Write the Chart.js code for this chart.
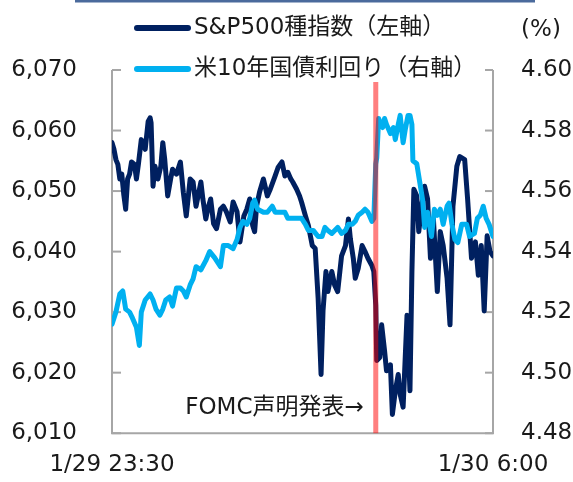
<!DOCTYPE html>
<html>
<head>
<meta charset="utf-8">
<script src="https://cdn.jsdelivr.net/npm/chart.js@4.4.1/dist/chart.umd.min.js"></script>
<style>
  html, body { margin: 0; padding: 0; background: #fff; }
  #wrap { width: 573px; height: 482px; }
</style>
</head>
<body>
<div id="wrap"><canvas id="chart" width="573" height="482"></canvas></div>
<script>
// minutes after 1/29 23:30 (JST)
const spxMinutes = [
  0, 2, 4, 6, 8, 10, 12, 14, 16, 18,
  20, 23, 25, 27, 30, 34, 37, 39, 40, 42,
  44, 47, 50, 52, 54, 57, 60, 62, 66, 70,
  73, 76, 80, 83, 86, 91, 93, 96, 98, 101,
  104, 107, 111, 114, 117, 121, 124, 128, 131, 135,
  138, 141, 144, 146, 148, 151, 155, 159, 162, 167,
  170, 174, 177, 180, 183, 185, 189, 192, 194, 198,
  201, 205, 208, 211, 214, 216, 219, 221, 225, 228,
  231, 235, 239, 242, 244, 247, 249, 252, 256, 259,
  262, 266, 268, 270, 271, 274, 276, 279, 281, 285,
  287, 290, 293, 295, 298, 302, 305, 307, 309, 312,
  314, 317, 320, 323, 326, 329, 333, 336, 339, 343,
  346, 349, 353, 356, 361, 364, 368, 372, 375, 378,
  381, 384, 387, 390
];
const spxValues = [
  6058.0, 6056.9, 6055.2, 6054.4, 6052.0, 6052.8, 6049.5, 6047.0, 6052.0, 6052.8,
  6054.8, 6054.4, 6052.0, 6054.4, 6058.5, 6056.9, 6061.5, 6062.1, 6061.3, 6050.8,
  6054.1, 6052.0, 6054.1, 6058.0, 6055.2, 6049.2, 6052.0, 6053.6, 6052.8, 6054.8,
  6049.8, 6045.9, 6052.0, 6051.5, 6047.5, 6051.5, 6048.7, 6045.4, 6047.0, 6048.7,
  6044.6, 6043.8, 6047.0, 6047.5, 6046.6, 6044.9, 6048.2, 6046.6, 6041.6, 6045.9,
  6047.0, 6048.7, 6044.3, 6043.3, 6047.5, 6049.8, 6052.0, 6049.2, 6050.3, 6052.5,
  6053.9, 6054.8, 6052.5, 6053.1, 6052.0, 6051.5, 6050.3, 6049.2, 6048.2, 6045.9,
  6044.3, 6041.0, 6040.5, 6032.3, 6019.7, 6030.2, 6036.7, 6033.4, 6036.7, 6034.4,
  6033.4, 6039.3, 6041.0, 6045.4, 6042.1, 6038.9, 6035.6, 6037.2, 6041.0, 6040.0,
  6038.9, 6037.7, 6036.7, 6031.1, 6022.0, 6022.5, 6027.9, 6023.6, 6020.3, 6021.3,
  6013.1, 6017.0, 6019.7, 6016.4, 6014.3, 6029.5, 6017.0, 6036.7, 6050.3, 6049.2,
  6043.3, 6047.5, 6050.8, 6048.7, 6038.9, 6045.4, 6033.4, 6043.3, 6041.0, 6035.6,
  6027.9, 6047.5, 6054.1, 6055.7, 6055.2, 6048.7, 6038.9, 6041.6, 6036.1, 6041.0,
  6030.2, 6042.6, 6040.0, 6039.3
];

const ustMinutes = [
  0, 4, 8, 11, 14, 18, 21, 25, 28, 30,
  34, 39, 42, 45, 49, 52, 55, 59, 62, 66,
  70, 73, 76, 80, 83, 86, 91, 96, 100, 105,
  111, 114, 119, 124, 128, 131, 134, 138, 141, 144,
  146, 149, 155, 159, 164, 167, 172, 177, 180, 184,
  189, 194, 198, 201, 206, 211, 215, 218, 221, 225,
  228, 231, 235, 239, 242, 246, 249, 252, 256, 259,
  262, 266, 268, 270, 271, 273, 275, 277, 279, 281,
  285, 288, 290, 293, 295, 298, 300, 303, 305, 307,
  308, 312, 315, 318, 320, 323, 327, 330, 333, 336,
  339, 343, 345, 348, 351, 354, 358, 363, 366, 371,
  374, 377, 380, 383, 386, 390
];
const ustValues = [
  4.516, 4.520, 4.526, 4.527, 4.521, 4.520, 4.518, 4.515, 4.509, 4.520,
  4.524, 4.526, 4.524, 4.521, 4.519, 4.521, 4.524, 4.525, 4.522, 4.528,
  4.528, 4.527, 4.525, 4.529, 4.531, 4.535, 4.534, 4.537, 4.540, 4.538,
  4.535, 4.542, 4.542, 4.541, 4.544, 4.548, 4.550, 4.549, 4.551, 4.556,
  4.557, 4.554, 4.553, 4.553, 4.555, 4.553, 4.553, 4.553, 4.551, 4.551,
  4.551, 4.551, 4.549, 4.547, 4.547, 4.545, 4.545, 4.548, 4.547, 4.546,
  4.547, 4.548, 4.546, 4.547, 4.549, 4.549, 4.550, 4.552, 4.553, 4.554,
  4.553, 4.550, 4.551, 4.569, 4.571, 4.584, 4.582, 4.581, 4.584, 4.582,
  4.579, 4.581, 4.577, 4.582, 4.585, 4.576, 4.580, 4.585, 4.585, 4.582,
  4.570, 4.569, 4.563, 4.557, 4.548, 4.553, 4.545, 4.554, 4.552, 4.554,
  4.549, 4.555, 4.556, 4.549, 4.544, 4.543, 4.549, 4.549, 4.545, 4.546,
  4.551, 4.552, 4.555, 4.551, 4.549, 4.545
];

const seriesNames = ['S&P500種指数（左軸）', '米10年国債利回り（右軸）'];
const seriesColors = ['#002060', '#00B0F0'];
const xTickMinutes = [0, 390];
const xTickLabels = ['1/29 23:30', '1/30 6:00'];
const fomcMinute = 270;
const fomcLabel = 'FOMC声明発表→';
const rightUnit = '(%)';

const FONT = '"DejaVu Sans", "Noto Sans CJK JP", sans-serif';
const AXIS = '#a6a6a6';

// legend, axis lines, inward ticks, FOMC marker
const overlay = {
  id: 'overlay',
  beforeDatasetsDraw(chart) {
    const ctx = chart.ctx, a = chart.chartArea;
    ctx.save();
    ctx.strokeStyle = AXIS;
    ctx.lineWidth = 2;
    ctx.beginPath();
    ctx.moveTo(a.left, a.top); ctx.lineTo(a.left, a.bottom); ctx.lineTo(a.right, a.bottom); ctx.lineTo(a.right, a.top);
    ctx.stroke();
    const yl = chart.scales.y, yr = chart.scales.y1;
    yl.ticks.forEach(t => {
      const y = yl.getPixelForValue(t.value);
      ctx.beginPath(); ctx.moveTo(a.left, y); ctx.lineTo(a.left + 9, y); ctx.stroke();
    });
    yr.ticks.forEach(t => {
      const y = yr.getPixelForValue(t.value);
      ctx.beginPath(); ctx.moveTo(a.right - 8, y); ctx.lineTo(a.right, y); ctx.stroke();
    });
    ctx.restore();
  },
  afterDatasetsDraw(chart) {
    const ctx = chart.ctx, a = chart.chartArea;
    const fx = chart.scales.x.getPixelForValue(fomcMinute);
    ctx.save();
    ctx.fillStyle = 'rgba(255,0,0,0.5)';
    ctx.fillRect(fx - 2.5, a.top + 12, 5, a.bottom - a.top - 12);
    ctx.fillStyle = '#1a1a1a';
    ctx.font = '23px ' + FONT;
    ctx.textAlign = 'right';
    ctx.textBaseline = 'middle';
    ctx.fillText(fomcLabel, fx - 12, 408);
    ctx.restore();
  },
  afterDraw(chart) {
    const ctx = chart.ctx;
    ctx.save();
    ctx.fillStyle = '#4a6a9c';
    ctx.fillRect(75, 0, 460, 2.5);
    ctx.font = '23px ' + FONT;
    ctx.textBaseline = 'middle';
    const rows = [28, 69];
    seriesNames.forEach((name, i) => {
      ctx.strokeStyle = seriesColors[i];
      ctx.lineWidth = 6;
      ctx.lineCap = 'round';
      ctx.beginPath(); ctx.moveTo(137, rows[i]); ctx.lineTo(188, rows[i]); ctx.stroke();
      ctx.fillStyle = '#1a1a1a';
      ctx.textAlign = 'left';
      ctx.fillText(name, 194, rows[i]);
    });
    ctx.textAlign = 'center';
    ctx.fillText(rightUnit, 541, 30);
    ctx.restore();
  }
};

const tickFont = { family: FONT, size: 23 };

new Chart(document.getElementById('chart'), {
  type: 'line',
  data: {
    datasets: [
      {
        label: seriesNames[0],
        data: spxMinutes.map((m, i) => ({ x: m, y: spxValues[i] })),
        yAxisID: 'y',
        borderColor: seriesColors[0],
        borderWidth: 5,
        order: 1
      },
      {
        label: seriesNames[1],
        data: ustMinutes.map((m, i) => ({ x: m, y: ustValues[i] })),
        yAxisID: 'y1',
        borderColor: seriesColors[1],
        borderWidth: 5,
        order: 0
      }
    ]
  },
  options: {
    responsive: false,
    animation: false,
    events: [],
    layout: { padding: { top: 70, left: 0, right: 0, bottom: 0 } },
    elements: {
      point: { radius: 0 },
      line: { tension: 0, borderJoinStyle: 'round', borderCapStyle: 'round' }
    },
    plugins: { legend: { display: false }, tooltip: { enabled: false } },
    scales: {
      x: {
        type: 'linear', min: 0, max: 390,
        grid: { display: false, drawTicks: false },
        border: { display: false },
        afterBuildTicks: s => { s.ticks = xTickMinutes.map(v => ({ value: v })); },
        afterFit: s => { s.height = 46; },
        ticks: {
          autoSkip: false, maxRotation: 0, padding: 18, color: '#1a1a1a', font: tickFont,
          callback: v => xTickLabels[xTickMinutes.indexOf(v)]
        }
      },
      y: {
        position: 'left', min: 6010, max: 6070,
        grid: { display: false, drawTicks: false },
        border: { display: false },
        afterFit: s => { s.width = 112; },
        ticks: { stepSize: 10, padding: 35, color: '#1a1a1a', font: tickFont,
          callback: v => v.toLocaleString('en-US') }
      },
      y1: {
        position: 'right', min: 4.48, max: 4.60,
        grid: { display: false, drawTicks: false },
        border: { display: false },
        afterFit: s => { s.width = 80; },
        ticks: { stepSize: 0.02, padding: 28, color: '#1a1a1a', font: tickFont,
          callback: v => v.toFixed(2) }
      }
    }
  },
  plugins: [overlay]
});
</script>
</body>
</html>
